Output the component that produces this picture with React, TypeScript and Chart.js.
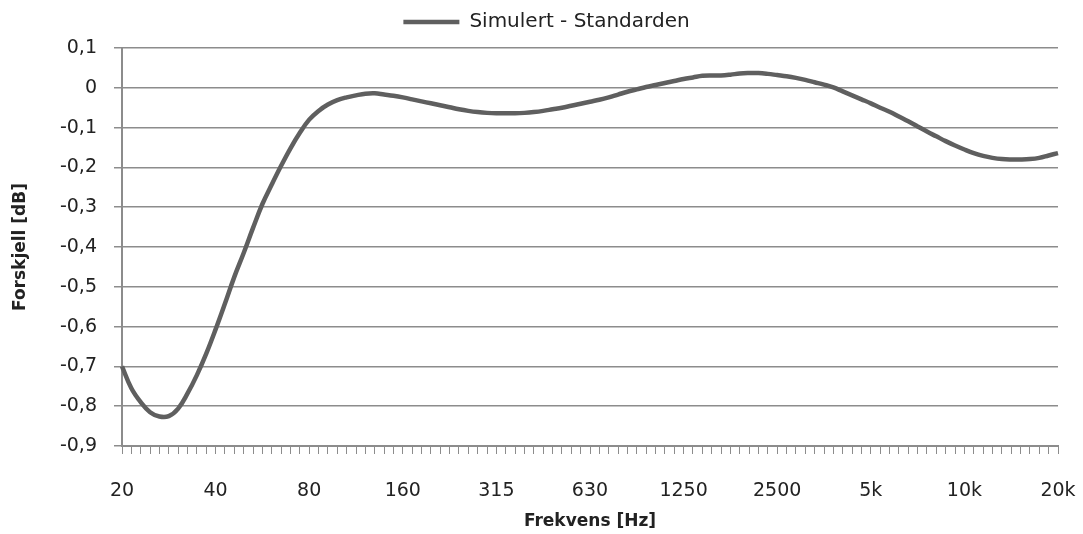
import React, { useEffect, useRef } from "react";
import { Chart, registerables } from "chart.js";

Chart.register(...registerables);

// Labelled frequency ticks (every 10th band of 1/10-octave bands from 20 Hz to 20 kHz)
const tickLabels = ["20", "40", "80", "160", "315", "630", "1250", "2500", "5k", "10k", "20k"];
const bandsPerLabel = 10;

// Simulert - Standarden [dB], 101 bands
const seriesName = "Simulert - Standarden";
const diffValues = [
  -0.700, -0.755, -0.790, -0.815, -0.826, -0.825, -0.806, -0.768, -0.722, -0.668,
  -0.607, -0.542, -0.475, -0.415, -0.352, -0.292, -0.243, -0.196, -0.152, -0.113,
  -0.080, -0.058, -0.042, -0.031, -0.024, -0.019, -0.015, -0.014, -0.017, -0.020,
  -0.024, -0.029, -0.034, -0.039, -0.044, -0.049, -0.054, -0.058, -0.061, -0.063,
  -0.064, -0.064, -0.064, -0.063, -0.061, -0.058, -0.054, -0.050, -0.045, -0.040,
  -0.035, -0.030, -0.024, -0.017, -0.010, -0.004, 0.002, 0.007, 0.012, 0.017,
  0.022, 0.026, 0.030, 0.031, 0.031, 0.033, 0.036, 0.037, 0.037, 0.035,
  0.032, 0.029, 0.025, 0.020, 0.014, 0.008, 0.001, -0.009, -0.019, -0.029,
  -0.039, -0.050, -0.060, -0.072, -0.084, -0.097, -0.110, -0.122, -0.134, -0.145,
  -0.155, -0.164, -0.171, -0.176, -0.179, -0.180, -0.180, -0.179, -0.176, -0.170,
  -0.164,
];

const yMin = -0.9;
const yMax = 0.1;
const yStep = 0.1;

const categories = diffValues.map((_, i) =>
  i % bandsPerLabel === 0 ? tickLabels[i / bandsPerLabel] : ""
);

const FONT = "'DejaVu Sans', sans-serif";
const GRID = "#8c8c8c";

const legendSpacer = {
  id: "legendSpacer",
  beforeLayout(chart: any) {
    const lg = chart.legend;
    if (lg && !lg.__patched) {
      const orig = lg.fit.bind(lg);
      lg.fit = function () {
        orig();
        this.height += 6;
      };
      lg.__patched = true;
    }
  },
};

export default function App() {
  const ref = useRef<HTMLCanvasElement | null>(null);

  useEffect(() => {
    if (!ref.current) return;
    const chart = new Chart(ref.current, {
      type: "line",
      data: {
        labels: categories,
        datasets: [
          {
            label: seriesName,
            data: diffValues,
            borderColor: "#5f5f5f",
            backgroundColor: "#5f5f5f",
            borderWidth: 4.5,
            pointRadius: 0,
            tension: 0.4,
            fill: false,
          },
        ],
      },
      plugins: [legendSpacer],
      options: {
        animation: false,
        responsive: false,
        maintainAspectRatio: false,
        layout: { padding: { left: 10, right: 0, top: 2, bottom: 2 } },
        plugins: {
          tooltip: { enabled: false },
          legend: {
            display: true,
            position: "top",
            labels: {
              usePointStyle: true,
              pointStyle: "line",
              pointStyleWidth: 56,
              boxHeight: 20,
              padding: 10,
              color: "#222",
              font: { family: FONT, size: 20 },
            },
          },
        },
        scales: {
          x: {
            type: "category",
            offset: false,
            grid: {
              display: true,
              drawOnChartArea: false,
              drawTicks: true,
              tickLength: 8,
              color: GRID,
              lineWidth: 1,
            },
            border: { display: true, color: GRID, width: 2 },
            ticks: {
              autoSkip: false,
              maxRotation: 0,
              minRotation: 0,
              padding: 26,
              color: "#222",
              font: { family: FONT, size: 19 },
              callback: (_v: any, i: number) => categories[i],
            },
            title: {
              display: true,
              text: "Frekvens [Hz]",
              color: "#222",
              font: { family: FONT, size: 17, weight: "bold" },
              padding: { top: 0, bottom: 0 },
            },
            afterFit: (scale: any) => {
              scale.height = 534 - 446 - 2;
              scale.paddingRight = 25;
              scale.paddingLeft = 0;
            },
          },
          y: {
            min: yMin,
            max: yMax,
            grid: {
              color: GRID,
              lineWidth: 1.5,
              tickLength: 8,
              drawTicks: true,
            },
            border: { display: true, color: GRID, width: 2 },
            ticks: {
              stepSize: yStep,
              padding: 17,
              color: "#222",
              font: { family: FONT, size: 19 },
              callback: (v: any) => {
                const n = Math.round(Number(v) * 10) / 10;
                return n === 0 ? "0" : n.toFixed(1).replace(".", ",");
              },
            },
            title: {
              display: true,
              text: "Forskjell [dB]",
              color: "#222",
              font: { family: FONT, size: 17, weight: "bold" },
              padding: { top: 0, bottom: 0 },
            },
            afterFit: (scale: any) => {
              scale.width = 122 - 10;
            },
          },
        },
      },
    });
    return () => chart.destroy();
  }, []);

  return (
    <div style={{ position: "absolute", left: 0, top: 0, width: 1083, height: 534, background: "#fff" }}>
      <canvas ref={ref} width={1083} height={534} style={{ width: 1083, height: 534, display: "block" }} />
    </div>
  );
}
